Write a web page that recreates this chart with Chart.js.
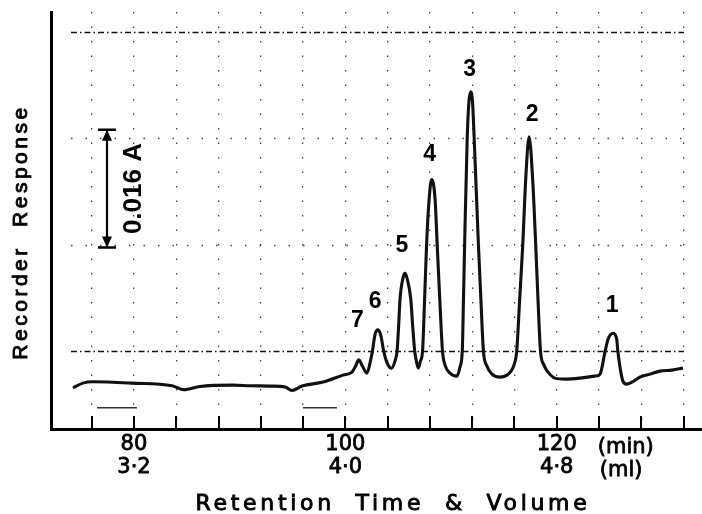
<!DOCTYPE html>
<html><head><meta charset="utf-8">
<script src="https://cdn.jsdelivr.net/npm/chart.js@4.4.1/dist/chart.umd.min.js"></script>
<style>html,body{margin:0;padding:0;background:#fff;}</style>
</head><body>
<canvas id="c" width="702" height="514"></canvas>
<script>
// Retention time (min) and recorder response (mA units, grid = 16)
const timeMin = [74.23,75.16,76.12,79.81,83.60,84.73,86.24,89.37,90.97,93.00,94.30,94.95,95.90,97.88,99.77,100.62,
  100.95,101.27,101.60,102.04,
  102.37,102.59,102.80,103.09,103.38,103.59,103.88,104.18,104.38,
  104.69,104.89,105.03,105.17,105.45,105.64,105.83,106.19,106.38,106.56,106.72,106.90,
  107.10,107.30,107.49,107.68,107.92,108.16,108.49,108.69,108.94,109.19,109.43,109.90,110.56,
  110.84,111.06,111.17,111.28,111.53,111.69,111.86,112.03,112.18,112.59,112.83,113.06,113.40,113.87,114.63,115.29,115.67,
  115.95,116.21,116.48,116.78,117.06,117.38,117.72,118.01,118.23,118.46,118.79,119.17,119.83,120.78,122.19,123.61,
  124.09,124.56,124.85,125.34,125.67,125.79,126.26,126.61,127.11,127.87,128.82,129.76,130.90,131.94];
const responseMA = [10.5,11.2,11.4,11.2,10.8,10.2,10.7,10.9,10.8,10.75,10.6,10.1,10.75,11.35,12.4,12.85,
  13.7,14.7,13.8,12.7,
  14.5,16.3,18.5,19.2,18.2,16.3,14.5,13.6,13.45,
  14.5,16.0,19.5,23.8,27.0,27.7,27.0,23.8,19.5,16.0,14.5,13.45,
  14.5,16.0,23.5,31.9,38.8,41.8,38.8,31.9,23.5,16.0,13.9,12.7,12.25,
  13.6,16.0,23.5,31.9,48.25,53.5,55.0,53.5,48.25,31.9,23.5,16.0,13.75,12.55,12.1,12.4,13.0,
  13.9,16.0,23.5,31.9,41.8,48.25,41.8,31.9,23.5,16.0,13.9,12.85,11.95,11.8,11.95,12.25,
  12.55,15.85,17.8,18.7,17.8,15.85,11.5,11.05,11.35,12.1,12.55,13.0,13.15,13.45];

const tickTimes = [76,80,84,88,92,96,100,104,108,112,116,120,124,128,132];
const labelTimes = [80,100,120];
const labelMin = ['80','100','120'];
const labelMl = ['3·2','4·0','4·8'];
const unitMin = '(min)';
const unitMl = '(ml)';
const gridLevels = [16,32,48,64];

const peakIds = ['7','6','5','4','3','2','1'];
const peakTimes = [101.27,103.09,105.64,108.16,111.86,117.38,125.34];
const peakHeights = [14.7,19.2,27.7,41.8,55.0,48.25,18.7];

const scaleBarTime = 77.45;
const scaleBarFrom = 31.6;
const scaleBarTo = 49.3;
const scaleBarText = '0.016 A';

const markTimesA = [76.5, 80.28];
const markTimesB = [95.99, 99.2];
const markLevel = [7.5, 7.5];

const xTitle = 'Retention Time & Volume';
const yTitle = 'Recorder Response';

const labelOffsets = {'7':[-1.5,-39],'6':[-3,-28],'5':[-3,-28],'4':[-2,-25],'3':[-1,-22],'2':[3,-22],'1':[-1,-28]};

function boldText(ctx, txt, x, y, w) {
  ctx.lineWidth = w; ctx.strokeStyle = '#000';
  ctx.fillText(txt, x, y); ctx.strokeText(txt, x, y);
}

const decor = {
  id: 'decor',
  beforeDatasetsDraw(chart) {
    const {ctx, chartArea: a, scales: {y}} = chart;
    ctx.save();
    gridLevels.forEach(v => {
      const py = Math.round(y.getPixelForValue(v)) + 0.5;
      const strong = (v === 16 || v === 64);
      ctx.strokeStyle = strong ? '#111' : '#444';
      ctx.lineWidth = strong ? 1.5 : 1.3;
      ctx.setLineDash(strong ? [6,3,1.5,3] : [1.5,13]);
      ctx.beginPath(); ctx.moveTo(a.left + 20, py); ctx.lineTo(a.right - 18, py); ctx.stroke();
    });
    ctx.restore();
  },
  afterDraw(chart) {
    const {ctx, chartArea: a, scales: {x, y}} = chart;
    ctx.save();
    ctx.strokeStyle = '#000'; ctx.lineWidth = 2;
    tickTimes.forEach(t => {
      const px = Math.round(x.getPixelForValue(t));
      ctx.beginPath(); ctx.moveTo(px, a.bottom); ctx.lineTo(px, a.bottom - 13); ctx.stroke();
    });
    ctx.fillStyle = '#000';
    ctx.font = 'bold 23px "Liberation Sans"';
    ctx.textAlign = 'center'; ctx.textBaseline = 'middle';
    peakIds.forEach((id, i) => {
      const o = labelOffsets[id];
      ctx.fillText(id, x.getPixelForValue(peakTimes[i]) + o[0], y.getPixelForValue(peakHeights[i]) + o[1]);
    });
    const bx = Math.round(x.getPixelForValue(scaleBarTime));
    const by1 = y.getPixelForValue(scaleBarTo), by2 = y.getPixelForValue(scaleBarFrom);
    ctx.lineWidth = 2.2;
    ctx.beginPath(); ctx.moveTo(bx, by1); ctx.lineTo(bx, by2); ctx.stroke();
    ctx.lineWidth = 2.6;
    ctx.beginPath(); ctx.moveTo(bx - 9, by1); ctx.lineTo(bx + 9, by1); ctx.moveTo(bx - 9, by2); ctx.lineTo(bx + 9, by2); ctx.stroke();
    ctx.beginPath(); ctx.moveTo(bx, by1); ctx.lineTo(bx - 5, by1 + 11); ctx.lineTo(bx + 5, by1 + 11); ctx.closePath(); ctx.fill();
    ctx.beginPath(); ctx.moveTo(bx, by2); ctx.lineTo(bx - 5, by2 - 11); ctx.lineTo(bx + 5, by2 - 11); ctx.closePath(); ctx.fill();
    ctx.save();
    ctx.translate(bx + 27, (by1 + by2) / 2);
    ctx.rotate(-Math.PI / 2);
    ctx.font = 'bold 26px "Liberation Sans"';
    ctx.textAlign = 'center'; ctx.textBaseline = 'middle';
    ctx.fillText(scaleBarText, 0, 0);
    ctx.restore();
    ctx.font = '21px "DejaVu Sans"';
    ctx.textAlign = 'left'; ctx.textBaseline = 'alphabetic';
    const ux = x.getPixelForValue(120) + 41;
    boldText(ctx, unitMin, ux, 453, 0.8);
    boldText(ctx, unitMl, ux + 2, 476, 0.8);
    ctx.font = '22px "DejaVu Sans"';
    ctx.letterSpacing = '3.7px';
    ctx.wordSpacing = '10px';
    ctx.textAlign = 'center';
    boldText(ctx, xTitle, 393, 510, 0.9);
    ctx.save();
    ctx.translate(27, 232);
    ctx.rotate(-Math.PI / 2);
    ctx.font = '21px "Liberation Sans"';
    ctx.letterSpacing = '3.5px';
    ctx.wordSpacing = '9px';
    ctx.textAlign = 'center';
    boldText(ctx, yTitle, 0, 0, 0.9);
    ctx.restore();
    ctx.restore();
  }
};

new Chart(document.getElementById('c'), {
  type: 'line',
  data: {
    datasets: [
      { data: timeMin.map((t, i) => ({x: t, y: responseMA[i]})), borderColor: '#111', borderWidth: 3.1,
        pointRadius: 0, cubicInterpolationMode: 'monotone', fill: false },
      { data: markTimesA.map((t, i) => ({x: t, y: markLevel[i]})), borderColor: '#333', borderWidth: 1.5, pointRadius: 0 },
      { data: markTimesB.map((t, i) => ({x: t, y: markLevel[i]})), borderColor: '#333', borderWidth: 1.5, pointRadius: 0 }
    ]
  },
  options: {
    responsive: false, animation: false, devicePixelRatio: 1,
    layout: { padding: { left: 51, top: 12, right: 0, bottom: 0 } },
    plugins: { legend: { display: false }, tooltip: { enabled: false } },
    scales: {
      x: {
        type: 'linear', min: 72.15, max: 133.74,
        afterBuildTicks: s => { s.ticks = tickTimes.map(v => ({value: v})); },
        afterFit: s => { s.height = 85; },
        ticks: {
          autoSkip: false, maxRotation: 0, minRotation: 0, padding: 4, color: '#000',
          textStrokeColor: '#000', textStrokeWidth: 0.8,
          font: { family: 'DejaVu Sans', size: 21, lineHeight: 1.1 },
          callback: v => { const i = labelTimes.indexOf(v); return i < 0 ? '' : [labelMin[i], labelMl[i]]; }
        },
        grid: { color: '#444', lineWidth: 1.3, drawTicks: false },
        border: { display: true, color: '#000', width: 3, dash: [1.5, 13] }
      },
      y: {
        type: 'linear', min: 4.3, max: 67,
        afterBuildTicks: s => { s.ticks = gridLevels.map(v => ({value: v})); },
        ticks: { display: false },
        grid: { display: false, drawTicks: false },
        border: { display: true, color: '#000', width: 3 }
      }
    }
  },
  plugins: [decor]
});
</script>
</body></html>
